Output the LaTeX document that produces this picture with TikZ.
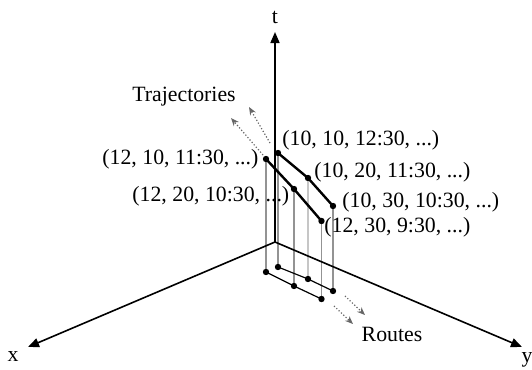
\documentclass[tikz,border=0pt]{standalone}
\usepackage{fontspec}
\setmainfont{Liberation Serif}
\usetikzlibrary{arrows.meta}

\tikzset{
    axis/.style={line width=0.8pt, -{Triangle[length=5.5pt,width=4.5pt]}},
    traj/.style={line width=1.2pt},
    route/.style={line width=0.6pt},
    drop/.style={line width=0.6pt, gray!85},
    hint/.style={line width=0.6pt, densely dotted, gray!80!black, -{Stealth[length=4pt,width=3.2pt]}},
    pt/.style={circle, fill, inner sep=0pt, minimum size=3.2pt},
    lbl/.style={anchor=west, inner sep=0pt}
}

\begin{document}
\begin{tikzpicture}[x=0.5pt, y=-0.5pt, every node/.style={font=\fontsize{10.9}{13}\selectfont}]
    \useasboundingbox (0,0) rectangle (532,370);
    \coordinate (O) at (275,242);
    \coordinate (T) at (275,32);
    \coordinate (X) at (28,347);
    \coordinate (Y) at (522,347);
    \coordinate (a1) at (266,159);
    \coordinate (a2) at (294,189);
    \coordinate (a3) at (321.5,221);
    \coordinate (b1) at (278,153);
    \coordinate (b2) at (308,178);
    \coordinate (b3) at (333,206);
    \coordinate (ra1) at (266,272);
    \coordinate (ra2) at (294,286);
    \coordinate (ra3) at (321.5,299);
    \coordinate (rb1) at (278,267);
    \coordinate (rb2) at (308,279);
    \coordinate (rb3) at (333,291);
    \foreach \p in {a1,a2,a3,b1,b3}
        \draw[drop] (\p) -- (r\p);
    \draw[drop, gray!45] (b2) -- (rb2);
    \draw[axis] (O) -- (T);
    \draw[axis] (O) -- (X);
    \draw[axis] (O) -- (Y);
    \node (tlab) at (275,17) {t};
    \node (xlab) at (13,356) {x};
    \node (ylab) at (527,360) {y};
    \draw[route] (ra1) -- (ra2) -- (ra3);
    \draw[route] (rb1) -- (rb2) -- (rb3);
    \draw[traj] (a1) -- (a2) -- (a3);
    \draw[traj] (b1) -- (b2) -- (b3);
    \foreach \p in {a1,a2,a3,b1,b2,b3,ra1,ra2,ra3,rb1,rb2,rb3}
        \node[pt] at (\p) {};
    \node (trajlab) at (184,97) {Trajectories};
    \coordinate (ta1) at (270,143);
    \coordinate (ta2) at (249,107);
    \coordinate (tb1) at (263,155);
    \coordinate (tb2) at (231,118);
    \draw[hint] (ta1) -- (ta2);
    \draw[hint] (tb1) -- (tb2);
    \node[lbl] (lb1) at (282,140) {(10, 10, 12:30, ...)};
    \node[lbl] (la1) at (102,159) {(12, 10, 11:30, ...)};
    \node[lbl] (lb2) at (314,172) {(10, 20, 11:30, ...)};
    \node[lbl] (la2) at (132,196) {(12, 20, 10:30, ...)};
    \node[lbl] (lb3) at (342,202) {(10, 30, 10:30, ...)};
    \node[lbl] (la3) at (324,227) {(12, 30, 9:30, ...)};
    \node (routelab) at (392,334) {Routes};
    \coordinate (rh1) at (345,296);
    \coordinate (rh2) at (365,315);
    \coordinate (rh3) at (334,306);
    \coordinate (rh4) at (353,324);
    \draw[hint] (rh1) -- (rh2);
    \draw[hint] (rh3) -- (rh4);
\end{tikzpicture}
\end{document}
